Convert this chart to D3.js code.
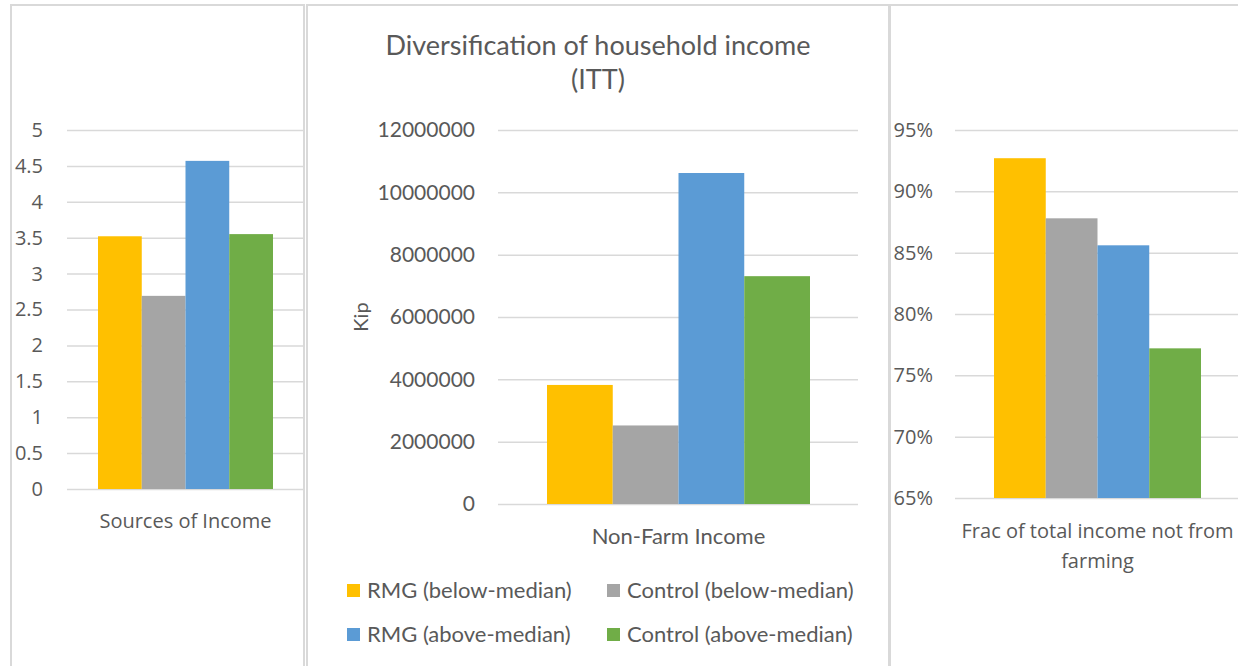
<!DOCTYPE html>
<html>
<head>
<meta charset="utf-8">
<script src="https://cdn.jsdelivr.net/npm/d3@7"></script>
<style>
  body { margin: 0; background: #fff; }
  svg { display: block; }
  .tick text { fill: #595959; }
</style>
</head>
<body>
<svg width="1238" height="666"></svg>
<script>
// series shared by all three panels
let seriesNames = ["RMG (below-median)", "Control (below-median)", "RMG (above-median)", "Control (above-median)"];
let seriesColors = ["#FFC000", "#A5A5A5", "#5B9BD5", "#70AD47"];

// panel 1
let sourcesValues = [3.52, 2.69, 4.57, 3.55];
let sourcesTicks = [0, 0.5, 1, 1.5, 2, 2.5, 3, 3.5, 4, 4.5, 5];

// panel 2
let nonFarmValues = [3820000, 2520000, 10620000, 7310000];
let nonFarmTicks = [0, 2000000, 4000000, 6000000, 8000000, 10000000, 12000000];

// panel 3
let fracValues = [0.927, 0.878, 0.856, 0.772];
let fracTicks = [0.65, 0.70, 0.75, 0.80, 0.85, 0.90, 0.95];

var svg = d3.select("svg");
let textColor = "#595959";
let gridColor = "#D9D9D9";

// panel frames
let frames = [[11, 5, 293], [307, 5, 582], [890, 5, 360]];
frames.forEach(f => {
    svg.append("rect")
        .attr("x", f[0]).attr("y", f[1])
        .attr("width", f[2]).attr("height", 700)
        .attr("fill", "none")
        .attr("stroke", "#D9D9D9")
        .attr("stroke-width", 2);
});

function drawPanel(opt) {
    let g = svg.append("g");
    let y = d3.scaleLinear()
        .domain(opt.domain)
        .range([opt.bottom, opt.top]);
    let x = d3.scaleBand()
        .domain(seriesNames)
        .range([opt.barLeft, opt.barRight]);

    // grid + labels via axis
    let axis = g.append("g")
        .attr("transform", `translate(${opt.gridLeft},0)`)
        .call(d3.axisLeft(y).tickValues(opt.ticks)
            .tickSize(-(opt.gridRight - opt.gridLeft))
            .tickPadding(opt.pad)
            .tickFormat(opt.format));
    axis.select(".domain").remove();
    axis.selectAll(".tick line").attr("stroke", gridColor).attr("stroke-width", 1.5);
    axis.selectAll(".tick text")
        .attr("font-family", opt.font)
        .attr("font-size", opt.tickSize);

    g.selectAll("rect.bar")
        .data(opt.values)
        .enter()
        .append("rect")
        .attr("class", "bar")
        .attr("x", (d, i) => x(seriesNames[i]))
        .attr("y", d => y(d))
        .attr("width", x.bandwidth())
        .attr("height", d => y(opt.domain[0]) - y(d))
        .attr("fill", (d, i) => seriesColors[i]);

    opt.label.forEach((line, i) => {
        g.append("text")
            .attr("x", (opt.barLeft + opt.barRight) / 2)
            .attr("y", opt.labelY + i * 30)
            .attr("text-anchor", "middle")
            .attr("font-family", opt.font)
            .attr("font-size", opt.labelSize)
            .attr("fill", textColor)
            .text(line);
    });
    return g;
}

drawPanel({
    domain: [0, 5], ticks: sourcesTicks, values: sourcesValues,
    top: 130, bottom: 489, gridLeft: 67, gridRight: 303,
    barLeft: 98, barRight: 273, pad: 24,
    format: d3.format(""), font: "Open Sans", tickSize: 20, labelSize: 20,
    label: ["Sources of Income"], labelY: 528
});

drawPanel({
    domain: [0, 12000000], ticks: nonFarmTicks, values: nonFarmValues,
    top: 130, bottom: 504, gridLeft: 498, gridRight: 858,
    barLeft: 547, barRight: 810, pad: 23,
    format: d3.format("d"), font: "Lato", tickSize: 21, labelSize: 22,
    label: ["Non-Farm Income"], labelY: 544
});

drawPanel({
    domain: [0.65, 0.95], ticks: fracTicks, values: fracValues,
    top: 130, bottom: 498, gridLeft: 955, gridRight: 1238,
    barLeft: 994, barRight: 1201, pad: 22,
    format: d3.format(".0%"), font: "Open Sans", tickSize: 20, labelSize: 20,
    label: ["Frac of total income not from", "farming"], labelY: 538
});

// title
["Diversification of household income", "(ITT)"].forEach((t, i) => {
    svg.append("text")
        .attr("x", 598)
        .attr("y", 55 + i * 34)
        .attr("text-anchor", "middle")
        .attr("font-family", "Lato")
        .attr("font-size", 27)
        .attr("fill", textColor)
        .text(t);
});

// y-axis title
svg.append("text")
    .attr("transform", "translate(368,317) rotate(-90)")
    .attr("text-anchor", "middle")
    .attr("font-family", "Lato")
    .attr("font-size", 20)
    .attr("fill", textColor)
    .text("Kip");

// legend
let legendX = [347, 607];
let legendY = [590, 634];
let legend = svg.append("g")
    .selectAll("g")
    .data(seriesNames)
    .enter()
    .append("g")
    .attr("transform", (d, i) => `translate(${legendX[i % 2]},${legendY[Math.floor(i / 2)]})`);
legend.append("rect")
    .attr("x", 0).attr("y", -6)
    .attr("width", 13).attr("height", 13)
    .attr("fill", (d, i) => seriesColors[i]);
legend.append("text")
    .attr("x", 20)
    .attr("y", 0)
    .attr("dy", "0.35em")
    .attr("font-family", "Lato")
    .attr("font-size", 22)
    .attr("fill", textColor)
    .text(d => d);
</script>
</body>
</html>
